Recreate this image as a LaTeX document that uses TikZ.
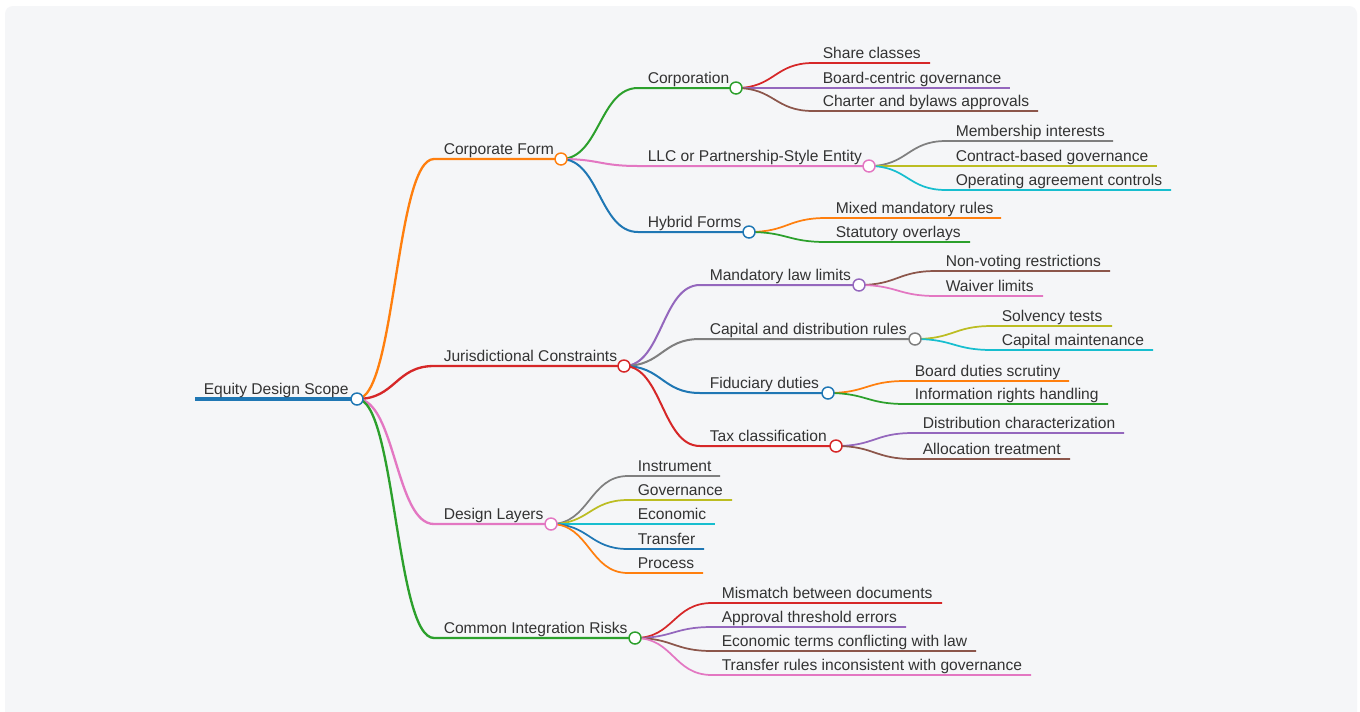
\documentclass[tikz,border=0pt]{standalone}
\usepackage{fontspec}
\setmainfont{Liberation Sans}
\usetikzlibrary{calc}

\definecolor{cBlue}{HTML}{1F77B4}
\definecolor{cOrange}{HTML}{FF7F0E}
\definecolor{cGreen}{HTML}{2CA02C}
\definecolor{cRed}{HTML}{D62728}
\definecolor{cPurple}{HTML}{9467BD}
\definecolor{cBrown}{HTML}{8C564B}
\definecolor{cPink}{HTML}{E377C2}
\definecolor{cGray}{HTML}{7F7F7F}
\definecolor{cOlive}{HTML}{BCBD22}
\definecolor{cCyan}{HTML}{17BECF}
\definecolor{txt}{HTML}{333333}
\definecolor{panel}{HTML}{F5F6F8}

\pgfdeclarelayer{back}
\pgfdeclarelayer{links}
\pgfsetlayers{back,links,main}

\tikzset{
  lbl/.style={anchor=base west, inner sep=0pt, text=txt,
    font=\fontsize{11.7}{13}\selectfont},
  knob/.style={circle, draw=#1, fill=white, line width=1.1pt,
    minimum size=9pt, inner sep=0pt},
  wroot/.style={line width=3pt},
  wone/.style={line width=1.75pt},
  wtwo/.style={line width=1.5pt},
  wthree/.style={line width=1.3pt},
}

% #1 name, #2 parent knob, #3 colour, #4 width style, #5 line start x,
% #6 line end x, #7 line y, #8 label
\newcommand\mmitem[8]{%
  \coordinate (#1s) at (#5,#7);
  \coordinate (#1e) at (#6,#7);
  \node[lbl] (#1) at (#5+9.5,#7-5) {#8};
  \begin{pgfonlayer}{links}
    \draw[#3,#4] let \p1=(#2), \p2=(#1s) in
      (\p1) .. controls ({(\x1+\x2)/2},\y1) and ({(\x1+\x2)/2},\y2) .. (\p2)
      -- (#1e);
  \end{pgfonlayer}}
% knob at the end of an item's line: #1 name, #2 colour
\newcommand\mmknob[2]{\node[knob=#2] (#1c) at (#1e) {};}

\begin{document}
\begin{tikzpicture}[x=0.75pt,y=-0.75pt]
  \useasboundingbox (0,0) rectangle (1360,711);
  \begin{pgfonlayer}{back}
    \fill[white] (0,0) rectangle (1360,711);
    \fill[panel, rounded corners=6pt] (5,6) rectangle (1357,730);
  \end{pgfonlayer}

  % root
  \coordinate (roots) at (195,399);
  \coordinate (roote) at (357,399);
  \node[lbl] (root) at (203.5,394) {Equity Design Scope};
  \begin{pgfonlayer}{links}
    \draw[cBlue,wroot] (roots) -- (roote);
  \end{pgfonlayer}
  \mmknob{root}{cBlue}

  % first level
  \mmitem{corp}{rootc}{cOrange}{wone}{434}{561}{159}{Corporate Form}
  \mmknob{corp}{cOrange}
  \mmitem{juris}{rootc}{cRed}{wone}{434}{624}{366}{Jurisdictional Constraints}
  \mmknob{juris}{cRed}
  \mmitem{layers}{rootc}{cPink}{wone}{434}{551}{524}{Design Layers}
  \mmknob{layers}{cPink}
  \mmitem{risks}{rootc}{cGreen}{wone}{434}{635}{638}{Common Integration Risks}
  \mmknob{risks}{cGreen}

  % corporate form
  \mmitem{corpn}{corpc}{cGreen}{wtwo}{638}{736}{88}{Corporation}
  \mmknob{corpn}{cGreen}
  \mmitem{llc}{corpc}{cPink}{wtwo}{638}{869}{166}{LLC or Partnership-Style Entity}
  \mmknob{llc}{cPink}
  \mmitem{hybrid}{corpc}{cBlue}{wtwo}{638}{749}{232}{Hybrid Forms}
  \mmknob{hybrid}{cBlue}

  \mmitem{share}{corpnc}{cRed}{wthree}{813}{930}{63}{Share classes}
  \mmitem{boardc}{corpnc}{cPurple}{wthree}{813}{1010}{88}{Board-centric governance}
  \mmitem{charter}{corpnc}{cBrown}{wthree}{813}{1038}{111}{Charter and bylaws approvals}

  \mmitem{member}{llcc}{cGray}{wthree}{946}{1113}{141}{Membership interests}
  \mmitem{contract}{llcc}{cOlive}{wthree}{946}{1157}{166}{Contract-based governance}
  \mmitem{operating}{llcc}{cCyan}{wthree}{946}{1171}{190}{Operating agreement controls}

  \mmitem{mixed}{hybridc}{cOrange}{wthree}{826}{1001}{218}{Mixed mandatory rules}
  \mmitem{statutory}{hybridc}{cGreen}{wthree}{826}{970}{242}{Statutory overlays}

  % jurisdictional constraints
  \mmitem{mand}{jurisc}{cPurple}{wtwo}{700}{859}{285}{Mandatory law limits}
  \mmknob{mand}{cPurple}
  \mmitem{capital}{jurisc}{cGray}{wtwo}{700}{915}{339}{Capital and distribution rules}
  \mmknob{capital}{cGray}
  \mmitem{fid}{jurisc}{cBlue}{wtwo}{700}{828}{393}{Fiduciary duties}
  \mmknob{fid}{cBlue}
  \mmitem{tax}{jurisc}{cRed}{wtwo}{700}{836}{446}{Tax classification}
  \mmknob{tax}{cRed}

  \mmitem{nonvote}{mandc}{cBrown}{wthree}{936}{1110}{271}{Non-voting restrictions}
  \mmitem{waiver}{mandc}{cPink}{wthree}{936}{1043}{296}{Waiver limits}

  \mmitem{solvency}{capitalc}{cOlive}{wthree}{992}{1112}{326}{Solvency tests}
  \mmitem{capmaint}{capitalc}{cCyan}{wthree}{992}{1153}{350}{Capital maintenance}

  \mmitem{bduty}{fidc}{cOrange}{wthree}{905}{1069}{381}{Board duties scrutiny}
  \mmitem{info}{fidc}{cGreen}{wthree}{905}{1108}{404}{Information rights handling}

  \mmitem{distr}{taxc}{cPurple}{wthree}{913}{1124}{433}{Distribution characterization}
  \mmitem{alloc}{taxc}{cBrown}{wthree}{913}{1070}{459}{Allocation treatment}

  % design layers
  \mmitem{instr}{layersc}{cGray}{wthree}{628}{720}{476}{Instrument}
  \mmitem{gov}{layersc}{cOlive}{wthree}{628}{732}{500}{Governance}
  \mmitem{econ}{layersc}{cCyan}{wthree}{628}{715}{524}{Economic}
  \mmitem{transfer}{layersc}{cBlue}{wthree}{628}{704}{549}{Transfer}
  \mmitem{process}{layersc}{cOrange}{wthree}{628}{703}{573}{Process}

  % common integration risks
  \mmitem{mismatch}{risksc}{cRed}{wthree}{712}{942}{603}{Mismatch between documents}
  \mmitem{approval}{risksc}{cPurple}{wthree}{712}{906}{627}{Approval threshold errors}
  \mmitem{econterms}{risksc}{cBrown}{wthree}{712}{976}{651}{Economic terms conflicting with law}
  \mmitem{trules}{risksc}{cPink}{wthree}{712}{1031}{675}{Transfer rules inconsistent with governance}
\end{tikzpicture}
\end{document}
